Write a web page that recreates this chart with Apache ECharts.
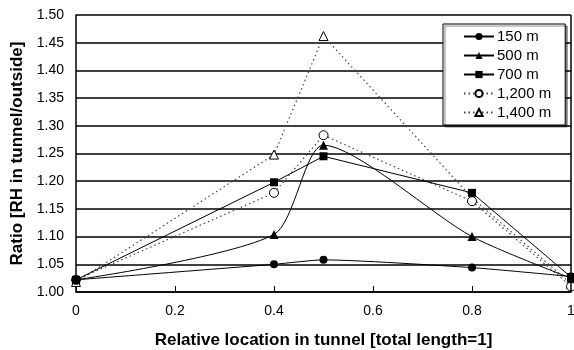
<!DOCTYPE html>
<html>
<head>
<meta charset="utf-8">
<script src="https://cdn.jsdelivr.net/npm/echarts@6/dist/echarts.min.js"></script>
<style>
  html, body { margin: 0; padding: 0; background: #fff; }
  #chart { width: 574px; height: 350px; }
</style>
</head>
<body>
<div id="chart"></div>
<script>
// relative location along the tunnel
const locations = [0, 0.4, 0.5, 0.8, 1];

// RH ratio, per tunnel length
const s150 = [1.022, 1.050, 1.058, 1.044, 1.028];
const s500 = [1.022, 1.104, 1.265, 1.100, 1.025];
const s700 = [1.022, 1.198, 1.245, 1.179, 1.027];
const s1200 = [1.022, 1.179, 1.283, 1.164, 1.010];
const s1400 = [1.018, 1.248, 1.462, 1.170, 1.015];

const names = ['150 m', '500 m', '700 m', '1,200 m', '1,400 m'];

const font = 'Liberation Sans, Arial, sans-serif';

function pts(arr) {
  return locations.map((x, i) => [x, arr[i]]);
}

const chart = echarts.init(document.getElementById('chart'));
chart.setOption({
  animation: false,
  grid: { left: 76, right: 3, top: 15, bottom: 58, outerBoundsMode: 'none' },
  legend: {
    orient: 'vertical',
    left: 443,
    top: 24,
    width: 122,
    padding: [5, 14, 5, 20],
    itemGap: 4,
    itemWidth: 30,
    itemHeight: 9,
    backgroundColor: '#fff',
    borderColor: '#000',
    borderWidth: 1,
    shadowColor: 'rgba(0,0,0,0.45)',
    shadowOffsetX: 2,
    shadowOffsetY: 2,
    textStyle: { fontFamily: font, fontSize: 15, color: '#000', padding: [0, 0, 0, -2] },
    data: names
  },
  xAxis: {
    type: 'value',
    min: 0,
    max: 1,
    interval: 0.2,
    name: 'Relative location in tunnel [total length=1]',
    nameLocation: 'middle',
    nameGap: 40,
    nameTextStyle: { fontFamily: font, fontSize: 17, fontWeight: 'bold', color: '#000' },
    axisLine: { lineStyle: { color: '#000', width: 1.5 } },
    axisTick: { inside: true, length: 6, lineStyle: { color: '#000' } },
    axisLabel: {
      fontFamily: font, fontSize: 14, color: '#000', margin: 12,
      formatter: v => String(Math.round(v * 10) / 10)
    },
    splitLine: { show: false }
  },
  yAxis: {
    type: 'value',
    min: 1,
    max: 1.5,
    interval: 0.05,
    name: 'Ratio [RH in tunnel/outside]',
    nameLocation: 'middle',
    nameGap: 50,
    nameTextStyle: { fontFamily: font, fontSize: 17, fontWeight: 'bold', color: '#000' },
    axisLine: { show: true, lineStyle: { color: '#000', width: 1.5 } },
    axisTick: { show: false },
    axisLabel: {
      fontFamily: font, fontSize: 14, color: '#000', margin: 12,
      formatter: v => v.toFixed(2)
    },
    splitLine: { show: true, lineStyle: { color: '#000', width: 1.5 } }
  },
  series: [
    {
      name: '150 m', type: 'line', data: pts(s150), smooth: 0.2,
      symbol: 'circle', symbolSize: 8,
      itemStyle: { color: '#000' },
      lineStyle: { color: '#000', width: 1 },
      z: 5
    },
    {
      name: '500 m', type: 'line', data: pts(s500), smooth: 0.25,
      symbol: 'triangle', symbolSize: 9,
      itemStyle: { color: '#000' },
      lineStyle: { color: '#000', width: 1 },
      z: 5
    },
    {
      name: '700 m', type: 'line', data: pts(s700),
      symbol: 'rect', symbolSize: 8,
      itemStyle: { color: '#000' },
      lineStyle: { color: '#000', width: 1 },
      z: 5
    },
    {
      name: '1,200 m', type: 'line', data: pts(s1200),
      symbol: 'circle', symbolSize: 9,
      itemStyle: { color: '#fff', borderColor: '#000', borderWidth: 1 },
      lineStyle: { color: '#444', width: 1.2, type: [1.5, 3] },
      z: 4
    },
    {
      name: '1,400 m', type: 'line', data: pts(s1400),
      symbol: 'triangle', symbolSize: 9,
      itemStyle: { color: '#fff', borderColor: '#000', borderWidth: 1 },
      lineStyle: { color: '#444', width: 1.2, type: [1.5, 3] },
      z: 3
    }
  ],
  graphic: [
    {
      // right border of plot area
      type: 'line',
      shape: { x1: 571, y1: 15, x2: 571, y2: 292 },
      style: { stroke: '#000', lineWidth: 1.5 },
      z: 10
    }
  ]
});
</script>
</body>
</html>
